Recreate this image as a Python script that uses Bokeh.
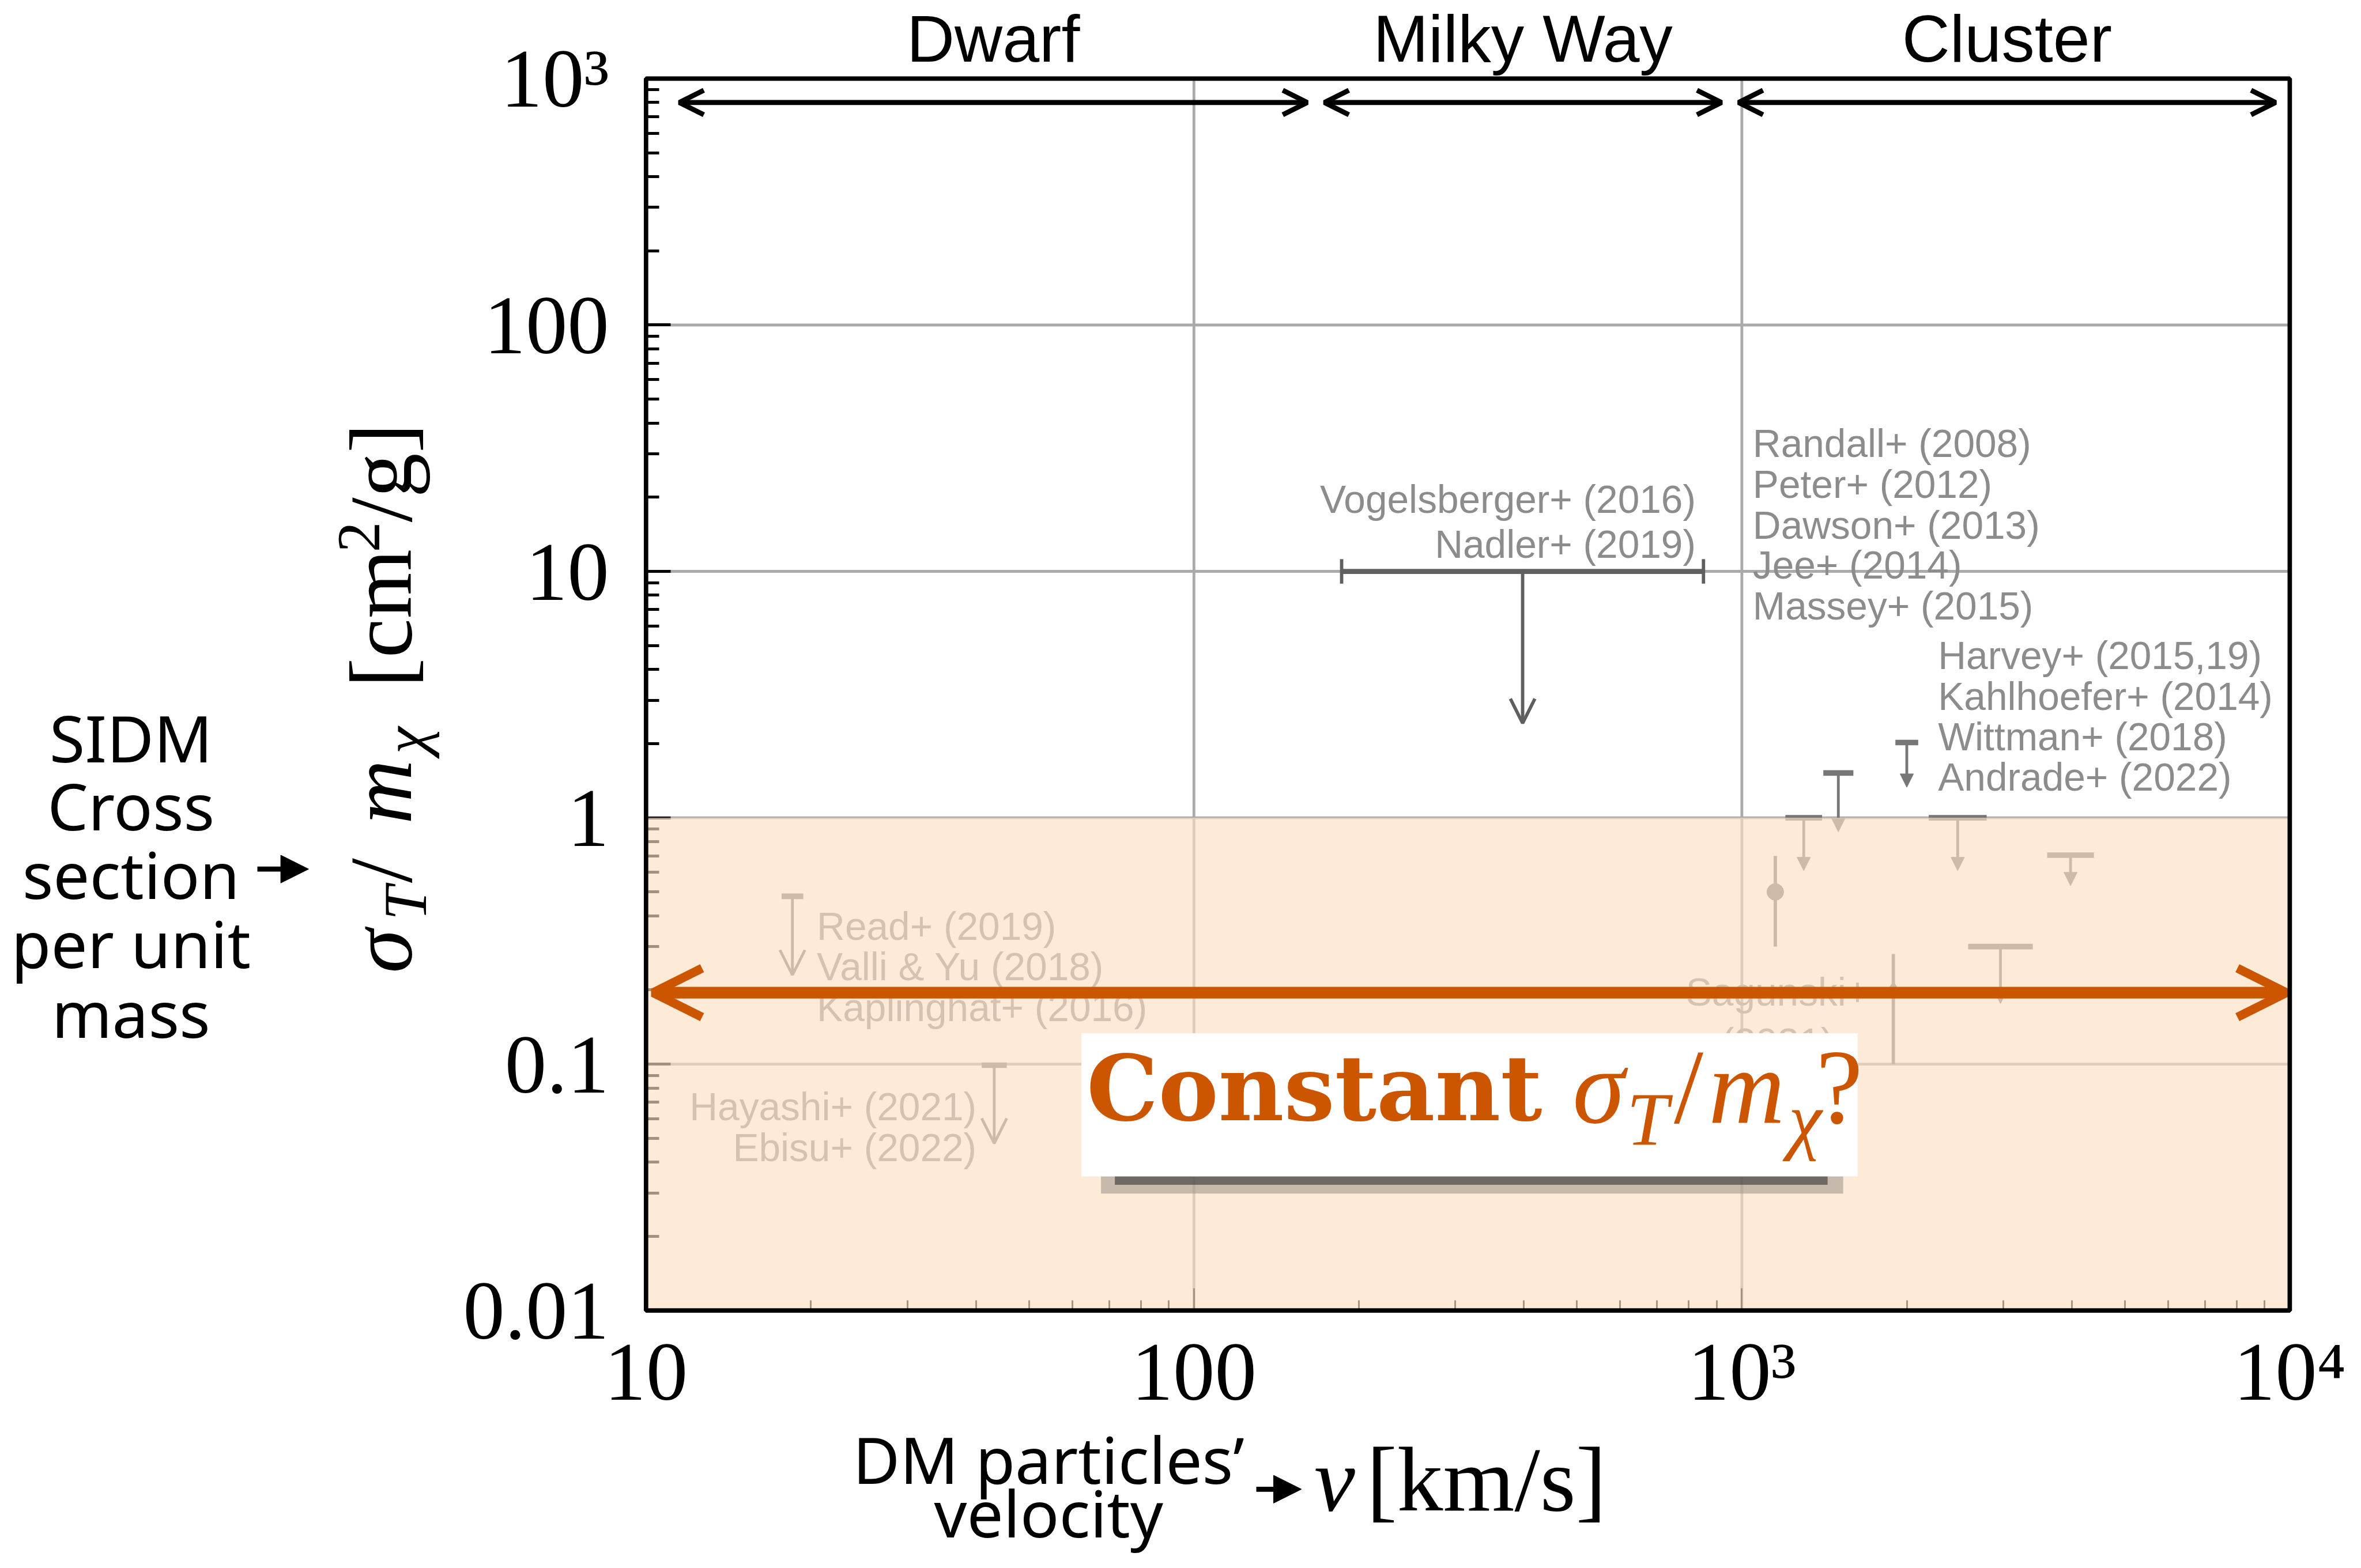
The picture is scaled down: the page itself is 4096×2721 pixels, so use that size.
import numpy as np
from bokeh.plotting import figure
from bokeh.models import (Range1d, FixedTicker, Label, Arrow, OpenHead, NormalHead,
                          BoxAnnotation, ColumnDataSource)
from bokeh.core.properties import value
from bokeh.embed import file_html
from bokeh.resources import INLINE

# ---------------------------------------------------------------- data
x_ticks = [10, 100, 1000, 10000]
x_tick_labels = ["10", "100", "10³", "10⁴"]
y_ticks = [0.01, 0.1, 1, 10, 100, 1000]
y_tick_labels = ["0.01", "0.1", "1", "10", "100", "10³"]

regime_names = ["Dwarf", "Milky Way", "Cluster"]
regime_v_lo = [11.5, 173.0, 986.0]
regime_v_hi = [161.0, 918.0, 9420.0]
regime_level = 800.0

# Milky-Way scale bound (Vogelsberger+ 2016 / Nadler+ 2019)
mw_v_lo, mw_v_hi = 186.0, 851.0
mw_sigma = 10.0
mw_v_mid = 398.0
mw_sigma_tip = 2.42

# cluster-scale upper limits
cl_v = [2000, 1500, 1297, 2477, 3980, 2965]
cl_cap = [2.02, 1.52, 1.0, 1.0, 0.705, 0.30]
cl_tip = [1.33, 0.877, 0.61, 0.61, 0.53, 0.176]

# dwarf-scale upper limits
dw_v = [18.5, 43.2]
dw_cap = [0.48, 0.099]
dw_tip = [0.23, 0.0477]

# measurements with error bars
pt_v = [1151, 1890]
pt_s = [0.50, 0.20]
pt_lo = [0.30, 0.10]
pt_hi = [0.70, 0.28]
pt_marker = ["circle", "diamond"]

# constant cross-section line
const_sigma = 0.195
const_v_lo, const_v_hi = 10.3, 9860.0

# reference labels
lab_r_text = ["Vogelsberger+ (2016)", "Nadler+ (2019)"]
lab_r_v = [824, 824]
lab_r_s = [19.6, 12.9]

lab_l_text = ["Randall+ (2008)", "Peter+ (2012)", "Dawson+ (2013)", "Jee+ (2014)",
              "Massey+ (2015)", "Harvey+ (2015,19)", "Kahlhoefer+ (2014)",
              "Wittman+ (2018)", "Andrade+ (2022)"]
lab_l_v = [1047, 1047, 1047, 1047, 1047, 2281, 2281, 2281, 2281]
lab_l_s = [33.0, 22.5, 15.4, 10.6, 7.24, 4.55, 3.11, 2.13, 1.46]

faded_l_text = ["Read+ (2019)", "Valli & Yu (2018)", "Kaplinghat+ (2016)"]
faded_l_v = [20.5, 20.5, 20.5]
faded_l_s = [0.362, 0.248, 0.170]

faded_r_text = ["Hayashi+ (2021)", "Ebisu+ (2022)"]
faded_r_v = [40.1, 40.1]
faded_r_s = [0.0671, 0.0459]

faded_c_text = ["Sagunski+", "(2021)"]
faded_c_v = [1161, 1161]
faded_c_s = [0.196, 0.123]

# ---------------------------------------------------------------- layout / styles
S = 0.966
W, H = 4080, 2705


def fpx(v):            # reference pixel -> canvas pixel
    return v * S - 8


PL, PR, PT, PB = fpx(1168), fpx(4120), fpx(149), fpx(2362)   # plot box on canvas
XDEC = (PR - PL) / 3
YDEC = (PB - PT) / 5


def X(rx):
    return 10 ** (1 + (fpx(rx) - PL) / XDEC)


def Y(ry):
    return 10 ** (-2 + (PB - fpx(ry)) / YDEC)


def px(v):
    return f"{v * S:.1f}px"


ORANGE = "#CC5500"
DARK = "#5f5f5f"
MID = "#777777"
TXT = "#8c8c8c"
SANS = "Liberation Sans"
SERIF = "Liberation Serif"
ROUND = "Noto Sans"
cl_capw = [41, 54, 66, 104, 84, 116]
dw_capw = [39, 45]

p = figure(width=W, height=H, x_axis_type="log", y_axis_type="log",
           x_range=Range1d(10 ** (1 - PL / XDEC), 10 ** (4 + (W - PR) / XDEC)),
           y_range=Range1d(10 ** (-2 - (H - PB) / YDEC), 10 ** (3 + PT / YDEC)),
           output_backend="svg", toolbar_location=None, title=None, min_border=0)
p.outline_line_color = None
p.background_fill_color = "white"
p.border_fill_color = "white"
p.xgrid.visible = False
p.ygrid.visible = False


def minors(e0, e1):
    return [m * 10.0 ** e for e in range(e0, e1) for m in range(2, 10)]


xa, ya = p.xaxis[0], p.yaxis[0]
xa.fixed_location = y_ticks[0]
ya.fixed_location = x_ticks[0]
xa.ticker = FixedTicker(ticks=x_ticks, minor_ticks=minors(1, 4))
ya.ticker = FixedTicker(ticks=y_ticks, minor_ticks=minors(-2, 3))
xa.major_label_overrides = dict(zip(x_ticks, x_tick_labels))
ya.major_label_overrides = dict(zip(y_ticks, y_tick_labels))
for ax in (xa, ya):
    ax.axis_line_color = None
    ax.major_tick_out = 0
    ax.minor_tick_out = 0
    ax.major_tick_line_color = "black"
    ax.minor_tick_line_color = "black"
    ax.major_label_text_font = SERIF
    ax.major_label_text_font_size = px(150)
    ax.major_label_text_color = "black"
ya.major_tick_in = round(45 * S)
ya.minor_tick_in = round(24 * S)
ya.major_tick_line_width = 5 * S
ya.minor_tick_line_width = 5 * S
ya.major_label_standoff = 64
xa.major_tick_in = round(40 * S)
xa.minor_tick_in = round(19 * S)
xa.major_tick_line_width = 3 * S
xa.minor_tick_line_width = 3 * S
xa.major_label_standoff = 26

# grid lines inside the plot box
p.segment(x0=x_ticks[1:-1], y0=[y_ticks[0]] * (len(x_ticks) - 2),
          x1=x_ticks[1:-1], y1=[y_ticks[-1]] * (len(x_ticks) - 2),
          line_color="#aaaaaa", line_width=5 * S, level="underlay")
p.segment(x0=[x_ticks[0]] * (len(y_ticks) - 2), y0=y_ticks[1:-1],
          x1=[x_ticks[-1]] * (len(y_ticks) - 2), y1=y_ticks[1:-1],
          line_color="#aaaaaa", line_width=5 * S, level="underlay")

# ---------------------------------------------------------------- glyph-level marks
p.segment(x0=[mw_v_lo], y0=[mw_sigma], x1=[mw_v_hi], y1=[mw_sigma],
          line_color=DARK, line_width=9 * S)
p.scatter(x=[mw_v_lo, mw_v_hi], y=[mw_sigma, mw_sigma], marker="dash",
          angle=np.pi / 2, size=44 * S, line_color=DARK, line_width=6 * S)
p.add_layout(Arrow(x_start=mw_v_mid, y_start=mw_sigma, x_end=mw_v_mid, y_end=mw_sigma_tip,
                   line_color=DARK, line_width=6 * S, level="glyph",
                   end=OpenHead(size=44 * S, line_width=6 * S, line_color=DARK)))

cl_src = ColumnDataSource(dict(v=cl_v, cap=cl_cap, tip=cl_tip,
                               w=[c * S for c in cl_capw]))
p.add_layout(Arrow(x_start="v", y_start="cap", x_end="v", y_end="tip", source=cl_src,
                   line_color=MID, line_width=5 * S, level="glyph",
                   end=NormalHead(size=24 * S, fill_color=MID, line_color=MID, line_width=1)))
p.scatter(x="v", y="cap", size="w", marker="dash", source=cl_src,
          line_color=MID, line_width=10 * S)

dw_src = ColumnDataSource(dict(v=dw_v, cap=dw_cap, tip=dw_tip,
                               w=[c * S for c in dw_capw]))
p.add_layout(Arrow(x_start="v", y_start="cap", x_end="v", y_end="tip", source=dw_src,
                   line_color=MID, line_width=5 * S, level="glyph",
                   end=OpenHead(size=45 * S, line_width=5 * S, line_color=MID)))
p.scatter(x="v", y="cap", size="w", marker="dash", source=dw_src,
          line_color=MID, line_width=10 * S)

pt_src = ColumnDataSource(dict(v=pt_v, s=pt_s, lo=pt_lo, hi=pt_hi, m=pt_marker))
p.segment(x0="v", y0="lo", x1="v", y1="hi", source=pt_src, line_color=MID, line_width=6 * S)
p.scatter(x="v", y="s", marker="m", source=pt_src, size=30 * S,
          fill_color=MID, line_color=MID)

tfont = value(SANS)
tsize = value(px(70))
p.text(x=lab_r_v, y=lab_r_s, text=lab_r_text, text_font=tfont, text_font_size=tsize,
       text_color=TXT, text_align="right", text_baseline="middle")
p.text(x=lab_l_v, y=lab_l_s, text=lab_l_text, text_font=tfont, text_font_size=tsize,
       text_color=TXT, text_align="left", text_baseline="middle")
p.text(x=faded_l_v, y=faded_l_s, text=faded_l_text, text_font=tfont, text_font_size=tsize,
       text_color=TXT, text_align="left", text_baseline="middle")
p.text(x=faded_r_v, y=faded_r_s, text=faded_r_text, text_font=tfont, text_font_size=tsize,
       text_color=TXT, text_align="right", text_baseline="middle")
p.text(x=faded_c_v, y=faded_c_s, text=faded_c_text, text_font=tfont, text_font_size=tsize,
       text_color=TXT, text_align="center", text_baseline="middle")

# ---------------------------------------------------------------- shading (sigma/m < 1)
p.add_layout(BoxAnnotation(left=x_ticks[0], right=x_ticks[-1], bottom=y_ticks[0], top=1,
                           fill_color="#FCE1C2", fill_alpha=0.65, line_color=None,
                           level="annotation"))


def label(text, rx, ry, size, font, style="normal", color="black", align="left",
          angle=0.0, level="annotation"):
    p.add_layout(Label(x=X(rx), y=Y(ry), text=text, text_font=font, text_font_style=style,
                       text_font_size=px(size), text_color=color, text_align=align,
                       text_baseline="middle", angle=angle, level=level))


# ---------------------------------------------------------------- regime arrows
for lo, hi, name in zip(regime_v_lo, regime_v_hi, regime_names):
    p.add_layout(Arrow(x_start=lo, y_start=regime_level, x_end=hi, y_end=regime_level,
                       line_color="black", line_width=9 * S, level="overlay",
                       start=OpenHead(size=44 * S, line_width=9 * S, line_color="black"),
                       end=OpenHead(size=44 * S, line_width=9 * S, line_color="black")))
    p.add_layout(Label(x=np.sqrt(lo * hi), y=Y(77), text=name, text_font=SANS,
                       text_font_size=px(119), text_color="black",
                       text_align="center", text_baseline="middle"))

# constant cross-section arrow
p.add_layout(Arrow(x_start=const_v_lo, y_start=const_sigma, x_end=const_v_hi, y_end=const_sigma,
                   line_color=ORANGE, line_width=21 * S, level="overlay",
                   start=OpenHead(size=88 * S, line_width=16 * S, line_color=ORANGE),
                   end=OpenHead(size=88 * S, line_width=16 * S, line_color=ORANGE)))

# box with shadow
p.add_layout(BoxAnnotation(left=X(1985), right=X(3318), top=Y(2118), bottom=Y(2152),
                           fill_color="#9a928a", fill_alpha=0.55, line_color=None,
                           level="overlay"))
p.add_layout(BoxAnnotation(left=X(2010), right=X(3290), top=Y(2118), bottom=Y(2136),
                           fill_color="#4a4540", fill_alpha=0.7, line_color=None,
                           level="overlay"))
p.add_layout(BoxAnnotation(left=X(1950), right=X(3344), top=Y(1864), bottom=Y(2121),
                           fill_color="white", fill_alpha=1.0, line_color=None,
                           level="overlay"))

label("Constant", 1959, 1963, 162, "DejaVu Serif", style="bold", color=ORANGE, level="overlay")
const_pieces = [("σ", 2832, 1960, 190, "italic"),
                ("T", 2929, 2019, 135, "italic"),
                ("/", 3014, 1960, 190, "normal"),
                ("m", 3076, 1960, 190, "italic"),
                ("χ", 3220, 2019, 135, "italic"),
                ("?", 3269, 1960, 190, "normal")]
for t, rx, ry, fs, st in const_pieces:
    label(t, rx, ry, fs, SERIF, style=st, color=ORANGE, level="overlay")

# ---------------------------------------------------------------- frame
p.add_layout(BoxAnnotation(left=x_ticks[0], right=x_ticks[-1], bottom=y_ticks[0],
                           top=y_ticks[-1], fill_color=None, fill_alpha=0,
                           line_color="black", line_alpha=1.0, line_width=8 * S,
                           level="overlay"))

# ---------------------------------------------------------------- y-axis title (rotated)
ytitle = [("σ", 1756, 692, 160, "italic"),
          ("T", 1661, 735, 110, "italic"),
          ("/", 1594, 692, 160, "normal"),
          ("m", 1488, 692, 160, "italic"),
          ("χ", 1362, 735, 110, "italic"),
          ("[cm", 1243, 692, 160, "normal"),
          ("2", 1000, 653, 110, "normal"),
          ("/g]", 946, 692, 160, "normal")]
for t, ry, rx, fs, st in ytitle:
    label(t, rx, ry, fs, SERIF, style=st, angle=np.pi / 2)

# left side explanation
for t, ry in zip(["SIDM", "Cross", "section", "per unit", "mass"],
                 [1332, 1454, 1578, 1702, 1827]):
    label(t, 243, ry, 116, ROUND, align="center")
p.add_layout(Arrow(x_start=X(470), y_start=Y(1569), x_end=X(562), y_end=Y(1569),
                   line_color="black", line_width=9 * S,
                   end=NormalHead(size=50 * S, fill_color="black", line_color="black")))

# x-axis title
label("DM particles’", 1891, 2628, 116, ROUND, align="center")
label("velocity", 1891, 2725, 116, ROUND, align="center")
p.add_layout(Arrow(x_start=X(2264), y_start=Y(2683), x_end=X(2345), y_end=Y(2683),
                   line_color="black", line_width=9 * S,
                   end=NormalHead(size=50 * S, fill_color="black", line_color="black")))
label("v", 2368, 2665, 165, SERIF, style="italic")
label("[km/s]", 2462, 2665, 165, SERIF)

open("out.html", "w").write(file_html(p, INLINE))
